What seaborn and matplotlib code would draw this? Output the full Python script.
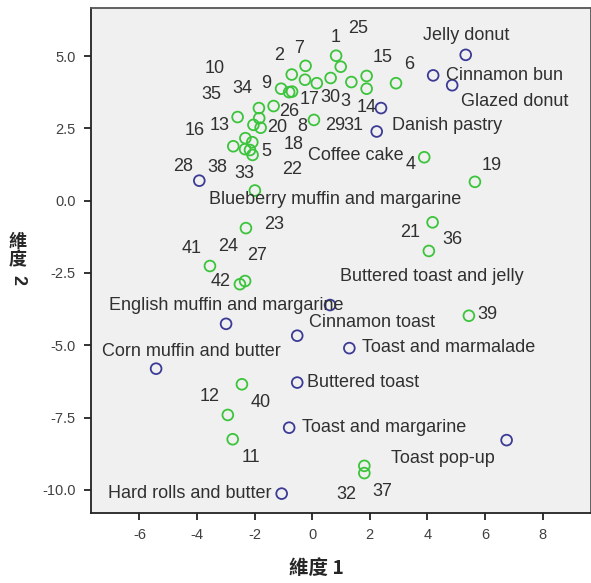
import matplotlib
matplotlib.use("Agg")
import matplotlib.pyplot as plt
import seaborn as sns
import pandas as pd

# 受試者座標 (維度 1, 維度 2)
subj_dim1 = [0.83, 0.99, -0.23, -0.71, -0.25, 0.16, 0.64, -1.08, -0.80, -0.70,
             -1.34, -1.85, -2.59, -1.84, -2.04, -1.79, 0.06, -2.32, -2.08, -2.74,
             -2.33, -2.16, -2.07, -1.99, 1.36, 1.89, 1.89, 2.91, 3.89, 5.65,
             -2.30, -3.55, -2.33, -2.51, -2.44, -2.93, -2.76, 1.81, 1.81, 4.18,
             4.05, 5.44]
subj_dim2 = [5.01, 4.63, 4.66, 4.36, 4.18, 4.06, 4.24, 3.87, 3.75, 3.77,
             3.27, 3.20, 2.89, 2.85, 2.62, 2.52, 2.79, 2.16, 2.02, 1.88,
             1.78, 1.75, 1.58, 0.35, 4.10, 4.31, 3.87, 4.06, 1.50, 0.65,
             -0.95, -2.26, -2.78, -2.89, -6.35, -7.41, -8.25, -9.17, -9.42, -0.75,
             -1.74, -3.98]

# 受試者編號標籤
num_text = ["10", "2", "7", "1", "25", "15", "6", "35", "34", "9",
            "17", "30", "3", "14", "26", "16", "13", "20", "8", "29",
            "31", "18", "5", "28", "38", "33", "22", "4", "19", "23",
            "41", "24", "27", "42", "21", "36", "39", "12", "40", "11",
            "32", "37"]
num_x = [-3.37, -1.14, -0.45, 0.83, 1.60, 2.43, 3.37, -3.49, -2.41, -1.61,
         -0.10, 0.62, 1.14, 1.89, -0.81, -4.07, -3.23, -1.21, -0.33, 0.79,
         1.42, -0.66, -1.61, -4.47, -3.28, -2.36, -0.71, 3.43, 6.23, -1.33,
         -4.18, -2.93, -1.91, -3.17, 3.40, 4.86, 6.09, -3.55, -1.79, -2.14,
         1.20, 2.43]
num_y = [4.58, 5.01, 5.27, 5.64, 5.96, 4.96, 4.69, 3.68, 3.86, 4.04,
         3.48, 3.56, 3.42, 3.21, 3.08, 2.41, 2.59, 2.52, 2.56, 2.59,
         2.59, 1.93, 1.69, 1.18, 1.15, 0.95, 1.06, 1.26, 1.20, -0.84,
         -1.67, -1.59, -1.91, -2.78, -1.11, -1.36, -3.92, -6.77, -6.97, -8.88,
         -10.17, -10.06]

# 食物刺激座標
foods = ["Jelly donut", "Cinnamon bun", "Glazed donut", "Coffee cake", "Danish pastry",
         "Blueberry muffin and margarine", "Buttered toast and jelly",
         "English muffin and margarine", "Cinnamon toast", "Corn muffin and butter",
         "Toast and marmalade", "Buttered toast", "Toast and margarine",
         "Hard rolls and butter", "Toast pop-up"]
food_dim1 = [5.33, 4.20, 4.86, 2.39, 2.24, -3.92, 0.62, -2.99, -0.52, -5.42,
             1.29, -0.52, -0.80, -1.06, 6.75]
food_dim2 = [5.04, 4.33, 3.99, 3.20, 2.39, 0.69, -3.61, -4.26, -4.67, -5.81,
             -5.10, -6.29, -7.85, -10.13, -8.28]
food_lab_x = [5.36, 6.66, 7.04, 1.50, 4.67, 0.79, 4.15, -2.99, 2.09, -4.18,
              4.74, 1.77, 2.50, -4.25, 4.55]
food_lab_y = [5.70, 4.33, 3.42, 1.56, 2.59, 0.04, -2.63, -3.61, -4.22, -5.20,
              -5.08, -6.29, -7.85, -10.11, -8.93]

green = "#3cc43c"
navy = "#3b3b96"
text_col = "#303030"

df_subj = pd.DataFrame({"d1": subj_dim1, "d2": subj_dim2})
df_food = pd.DataFrame({"d1": food_dim1, "d2": food_dim2, "name": foods})

sns.set_style("white")
plt.rcParams["font.family"] = ["Liberation Sans", "Noto Sans CJK TC"]
plt.rcParams["axes.unicode_minus"] = False

fig = plt.figure(figsize=(5.91, 5.83), dpi=100)
ax = fig.add_axes([91 / 591, 1 - 513 / 583, 1 - 91 / 591, (513 - 8) / 583])
ax.set_facecolor("#f0f0f0")

sns.scatterplot(data=df_subj, x="d1", y="d2", ax=ax, marker="o", s=60,
                facecolors="none", edgecolor=green, linewidth=1.3)
sns.scatterplot(data=df_food, x="d1", y="d2", ax=ax, marker="o", s=60,
                facecolors="none", edgecolor=navy, linewidth=1.3)

for t, x, y in zip(num_text, num_x, num_y):
    ax.text(x, y, t, ha="center", va="center", fontsize=13, color=text_col)
for t, x, y in zip(foods, food_lab_x, food_lab_y):
    ax.text(x, y, t, ha="center", va="center", fontsize=13, color=text_col)

ax.set_xlim(-7.68, 9.68)
ax.set_ylim(-10.80, 6.66)
ax.set_xticks([-6, -4, -2, 0, 2, 4, 6, 8])
ax.set_yticks([-10, -7.5, -5, -2.5, 0, 2.5, 5])
ax.set_yticklabels([f"{v:.1f}" for v in [-10, -7.5, -5, -2.5, 0, 2.5, 5]])
ax.tick_params(axis="both", direction="out", length=5, width=1.3, color="#222222",
               labelsize=10.5, labelcolor="#404040", bottom=True, left=True, pad=6)
for s in ax.spines.values():
    s.set_color("#555555")
    s.set_linewidth(1.3)
ax.spines["left"].set_color("#222222")
ax.spines["bottom"].set_color("#222222")
ax.set_xlabel("")
ax.set_ylabel("")

# 軸標題
fig.text(316 / 591, 1 - 568 / 583, "維度 1", ha="center", va="center",
         fontsize=14, fontweight="bold", family=["Noto Sans CJK TC"])
fig.text(18 / 591, 1 - 251 / 583, "維\n度", ha="center", va="center",
         fontsize=13, fontweight="bold", family=["Noto Sans CJK TC"], linespacing=0.95)
fig.text(18 / 591, 1 - 280 / 583, "2", ha="center", va="center", rotation=270,
         fontsize=13, fontweight="bold", family=["Liberation Sans"])

fig.savefig("out.png", dpi=100)
